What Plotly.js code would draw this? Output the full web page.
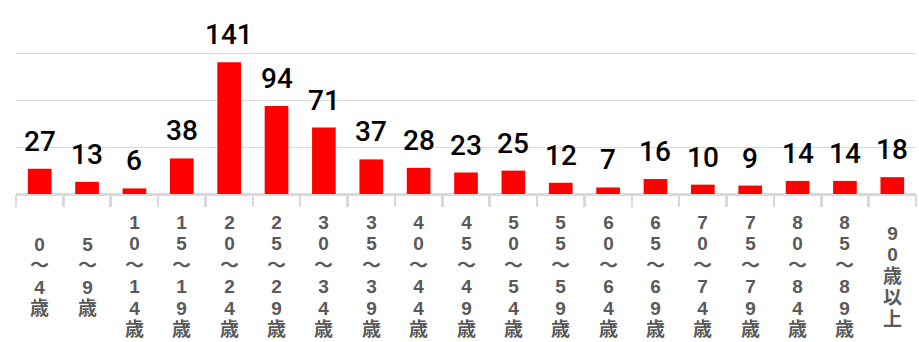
<!DOCTYPE html>
<html>
<head>
<meta charset="utf-8">
<script src="https://cdn.plot.ly/plotly-3.0.1.min.js"></script>
<style>
  html, body { margin: 0; padding: 0; background: #fff; }
  #chart { width: 919px; height: 342px; }
</style>
</head>
<body>
<div id="chart"></div>
<script>
// Age groups (each label is written top-to-bottom, one character per line)
const ageGroups = [
  "0〜4歳", "5〜9歳", "10〜14歳", "15〜19歳", "20〜24歳", "25〜29歳",
  "30〜34歳", "35〜39歳", "40〜44歳", "45〜49歳", "50〜54歳", "55〜59歳",
  "60〜64歳", "65〜69歳", "70〜74歳", "75〜79歳", "80〜84歳", "85〜89歳",
  "90歳以上"
];
// Count per age group
const counts = [27, 13, 6, 38, 141, 94, 71, 37, 28, 23, 25, 12, 7, 16, 10, 9, 14, 14, 18];

const barTrace = {
  type: "bar",
  x: ageGroups,
  y: counts,
  marker: { color: "#ff0000" },
  hoverinfo: "x+y"
};

// Value labels above each bar
const valueLabels = ageGroups.map((g, i) => ({
  x: g, y: counts[i], xref: "x", yref: "y",
  text: String(counts[i]),
  showarrow: false,
  yanchor: "bottom",
  yshift: 9,
  font: { family: "Roboto, 'Liberation Sans', sans-serif", size: 28, color: "#000", weight: 500 }
}));

// Vertical category labels: characters stacked one per line, column centred.
// Line pitch follows the base font size (1.3em); glyphs are drawn a bit larger.
const plotTop = 7, plotBottom = 194, chartH = 342;
const labelCenterPx = 276;
const pxToPaper = px => (plotBottom - px) / (plotBottom - plotTop);
const tickLabels = ageGroups.map(g => ({
  x: g, xref: "x", yref: "paper",
  y: pxToPaper(labelCenterPx), yanchor: "middle",
  text: Array.from(g).map(c => '<span style="font-size:19px">' + c + '</span>').join("<br>"),
  showarrow: false,
  font: { family: "'Liberation Sans', 'Noto Sans CJK JP', sans-serif", size: 16.5, color: "#595959", weight: "bold" }
}));

const layout = {
  width: 919,
  height: 342,
  margin: { l: 16, r: 3, t: plotTop, b: chartH - plotBottom, pad: 0 },
  paper_bgcolor: "#ffffff",
  plot_bgcolor: "#ffffff",
  showlegend: false,
  bargap: 0.5,
  xaxis: {
    type: "category",
    showticklabels: false,
    showgrid: false,
    showline: false,
    zeroline: false,
    ticks: "outside",
    tickson: "boundaries",
    ticklen: 12,
    tickwidth: 2.5,
    tickcolor: "#d9d9d9",
    fixedrange: true
  },
  yaxis: {
    range: [0, 200],
    dtick: 50,
    showticklabels: false,
    showgrid: true,
    gridcolor: "#d9d9d9",
    gridwidth: 1.3,
    zeroline: true,
    zerolinecolor: "#d9d9d9",
    zerolinewidth: 3,
    showline: false,
    ticks: "",
    fixedrange: true
  },
  annotations: valueLabels.concat(tickLabels)
};

Plotly.newPlot("chart", [barTrace], layout, { displayModeBar: false, staticPlot: true });
</script>
</body>
</html>
